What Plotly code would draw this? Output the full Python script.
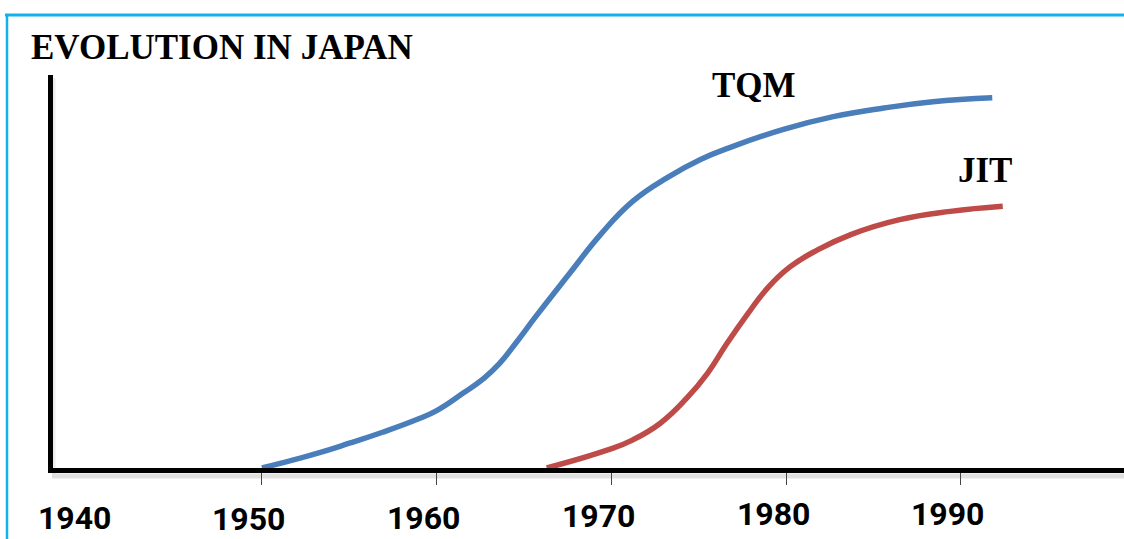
import plotly.graph_objects as go

# Adoption curves (relative index, 0-100) by year
tqm_years = [1950.0, 1953.2, 1955.0, 1956.9, 1958.9, 1960.0, 1961.5, 1962.7, 1963.6,
             1964.6, 1965.7, 1967.5, 1969.4, 1971.2, 1973.2, 1975.1, 1977.0, 1979.8,
             1982.7, 1985.6, 1988.4, 1991.8]
tqm_values = [0.0, 3.8, 6.3, 9.1, 12.4, 14.6, 19.0, 22.8, 26.6,
              32.2, 38.7, 48.9, 59.5, 67.8, 73.9, 78.5, 81.9, 86.1,
              89.4, 91.6, 93.2, 94.2]

jit_years = [1966.3, 1969.8, 1971.2, 1972.8, 1974.3, 1975.5, 1976.6, 1977.8, 1978.9,
             1980.2, 1981.8, 1983.7, 1986.5, 1989.4, 1992.4]
jit_values = [0.0, 4.6, 7.1, 11.4, 17.7, 24.1, 31.6, 39.2, 45.6,
              51.1, 55.5, 59.4, 63.2, 65.3, 66.6]

tick_years = [1950, 1960, 1970, 1980, 1990]
label_years = [1940, 1950, 1960, 1970, 1980, 1990]
label_texts = ["1940", "1950", "1960", "1970", "1980", "1990"]

W, H = 1124, 539
M_L, M_R, M_T, M_B = 53, 0, 75, 71
PW, PH = W - M_L - M_R, H - M_T - M_B
X_RANGE = [1938.04, 1999.34]


def px_x(x):
    return (x - M_L) / PW


def px_y(y):
    return (H - M_B - y) / PH


BLUE = "#4A7EBB"
RED = "#BE4B48"
SERIF = "Liberation Serif, Times New Roman, serif"
SANS = "Roboto, Arial, sans-serif"

fig = go.Figure()

fig.add_trace(go.Scatter(
    x=tqm_years, y=tqm_values, mode="lines", name="TQM",
    line=dict(color=BLUE, width=5.5, shape="spline", smoothing=1.3),
    hoverinfo="skip",
))
fig.add_trace(go.Scatter(
    x=jit_years, y=jit_values, mode="lines", name="JIT",
    line=dict(color=RED, width=5.5, shape="spline", smoothing=1.3),
    hoverinfo="skip",
))

shapes = [
    # soft shadow under the axes
    dict(type="line", xref="paper", yref="paper", x0=px_x(52), x1=1.0,
         y0=px_y(476), y1=px_y(476), line=dict(color="rgba(0,0,0,0.12)", width=5), layer="below"),
    dict(type="line", xref="paper", yref="paper", x0=px_x(54), x1=px_x(54),
         y0=px_y(78), y1=px_y(474), line=dict(color="rgba(0,0,0,0.07)", width=3), layer="below"),
    # frame
    dict(type="line", xref="paper", yref="paper", x0=px_x(5), x1=px_x(1130),
         y0=px_y(15), y1=px_y(15), line=dict(color="#10B2EE", width=3)),
    dict(type="line", xref="paper", yref="paper", x0=px_x(7), x1=px_x(7),
         y0=px_y(14), y1=px_y(545), line=dict(color="#10B2EE", width=2.5)),
]

annotations = [
    dict(text="<b>EVOLUTION IN JAPAN</b>", xref="paper", yref="paper",
         x=px_x(222), y=px_y(47), xanchor="center", yanchor="middle",
         showarrow=False, font=dict(family=SERIF, size=35, color="#000")),
    dict(text="<b>TQM</b>", xref="paper", yref="paper",
         x=px_x(754), y=px_y(86), xanchor="center", yanchor="middle",
         showarrow=False, font=dict(family=SERIF, size=35, color="#000")),
    dict(text="<b>JIT</b>", xref="paper", yref="paper",
         x=px_x(985), y=px_y(170), xanchor="center", yanchor="middle",
         showarrow=False, font=dict(family=SERIF, size=35, color="#000")),
]
label_y = [518, 519, 518, 516, 514, 514]
for yr, txt, ly in zip(label_years, label_texts, label_y):
    annotations.append(dict(
        text=f"<b>{txt}</b>", x=yr, xref="x", y=px_y(ly), yref="paper",
        xanchor="center", yanchor="middle", xshift=-13, showarrow=False,
        font=dict(family=SANS, size=32, color="#000"),
    ))

fig.update_layout(
    width=W, height=H,
    margin=dict(l=M_L, r=M_R, t=M_T, b=M_B, pad=0),
    paper_bgcolor="white", plot_bgcolor="white",
    showlegend=False,
    shapes=shapes,
    annotations=annotations,
    xaxis=dict(
        range=X_RANGE, showgrid=False, zeroline=False,
        showline=True, linecolor="black", linewidth=5,
        tickmode="array", tickvals=tick_years, ticktext=[""] * len(tick_years),
        ticks="outside", ticklen=12, tickwidth=1.3, tickcolor="#444",
    ),
    # second axis only carries the short tick stubs above the baseline
    xaxis2=dict(
        range=X_RANGE, overlaying="x", anchor="y", side="bottom",
        showgrid=False, zeroline=False, showline=False,
        tickmode="array", tickvals=tick_years, ticktext=[""] * len(tick_years),
        ticks="inside", ticklen=4, tickwidth=1.3, tickcolor="#444",
    ),
    yaxis=dict(
        range=[0, 100], showgrid=False, zeroline=False,
        showline=True, linecolor="black", linewidth=5,
        showticklabels=False, ticks="",
    ),
)

fig.write_html("out.html")
